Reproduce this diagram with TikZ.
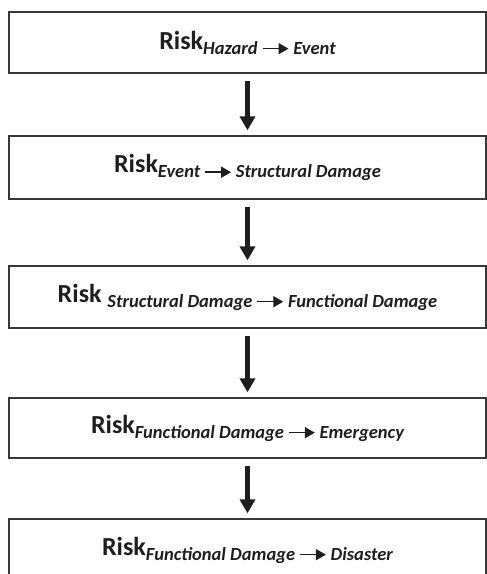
\documentclass[tikz,border=0pt]{standalone}
\usepackage{fontspec}
\setmainfont{Carlito}
\usetikzlibrary{arrows.meta,positioning}
\definecolor{ink}{RGB}{30,30,30}
\definecolor{frame}{RGB}{55,55,55}
% small arrow inside the subscripts
\newcommand{\riskto}{\hspace{4pt}\tikz[baseline=-0.6ex]\draw[ink,line width=1.6pt,-{Triangle[length=10pt,width=11pt]}] (0,0) -- (26pt,0);\hspace{4pt}}
\newcommand{\riskof}[2]{\textbf{Risk}#1\raisebox{-5pt}{\fontsize{18.5}{20}\selectfont\bfseries\itshape #2}}

\begin{document}
\begin{tikzpicture}[x=1pt,y=-1pt,
    riskbox/.style={draw=frame,line width=1.3pt,minimum width=477pt,text=ink,font=\fontsize{26}{30}\selectfont},
    flowarrow/.style={ink,line width=4.5pt,-{Triangle[length=14pt,width=15pt]},shorten <=7pt,shorten >=5pt}]
    \useasboundingbox (0,0) rectangle (487,574);
    \node[riskbox,minimum height=61pt] (hazard) at (247.5,42.5) {\riskof{}{Hazard\riskto Event}};
    \node[riskbox,minimum height=63pt] (event) at (247.5,167.5) {\riskof{}{Event\riskto Structural Damage}};
    \node[riskbox,minimum height=62pt] (structural) at (247.5,297) {\riskof{ }{Structural Damage\riskto Functional Damage}};
    \node[riskbox,minimum height=60pt] (functional) at (247.5,428) {\riskof{}{Functional Damage\riskto Emergency}};
    \node[riskbox,minimum height=62pt] (disaster) at (247.5,550) {\riskof{}{Functional Damage\riskto Disaster}};
    \foreach \a/\b in {hazard/event,event/structural,structural/functional,functional/disaster}
      \draw[flowarrow] (\a) -- (\b);
\end{tikzpicture}
\end{document}
